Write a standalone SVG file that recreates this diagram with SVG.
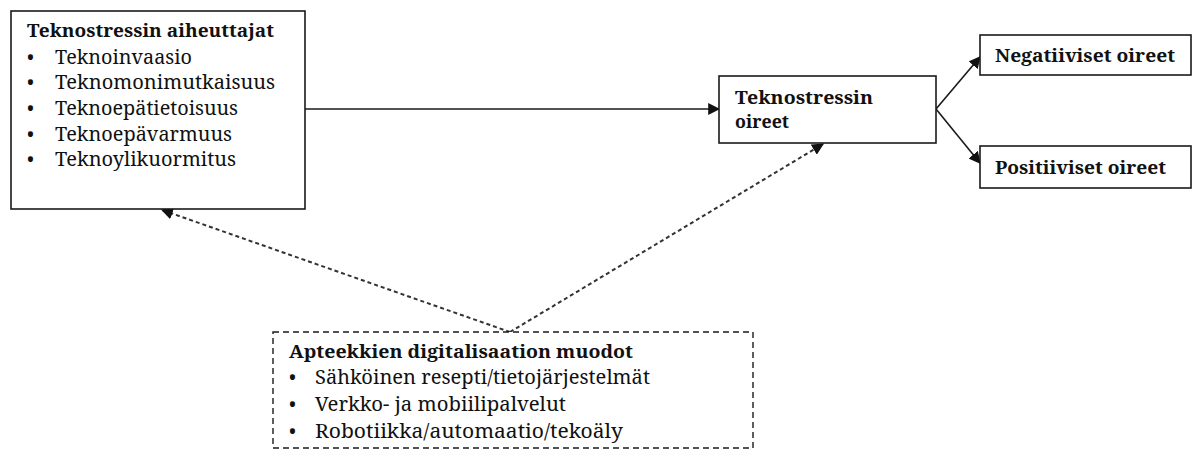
<svg xmlns="http://www.w3.org/2000/svg" width="1194" height="450" viewBox="0 0 1194 450">
<defs>
<style>
.box{fill:#fff;stroke:#1a1a1a;stroke-width:1.6}
.dbox{fill:#fff;stroke:#1a1a1a;stroke-width:1.4;stroke-dasharray:6 4}
.hd{font-family:"Noto Sans","Liberation Serif",serif;font-family:"Noto Serif","Liberation Serif",serif;font-weight:bold;font-size:18px;fill:#111}
.it{font-family:"Noto Serif","Liberation Serif",serif;font-weight:normal;font-size:19px;fill:#111}
.ln{stroke:#1a1a1a;stroke-width:1.6;fill:none}
.dl{stroke:#333;stroke-width:2;fill:none;stroke-dasharray:4 3}
</style>
<marker id="ah" viewBox="0 0 10 10" refX="9" refY="5" markerWidth="12" markerHeight="12" markerUnits="userSpaceOnUse" orient="auto">
<path d="M0,0 L10,5 L0,10 Z" fill="#111"/>
</marker>
</defs>
<rect width="1194" height="450" fill="#fff"/>
<g id="connectors">
<line class="ln" x1="305" y1="109" x2="719" y2="109" marker-end="url(#ah)"/>
<line class="ln" x1="936" y1="109" x2="980" y2="57" marker-end="url(#ah)"/>
<line class="ln" x1="936" y1="109" x2="980" y2="163" marker-end="url(#ah)"/>
<line class="dl" x1="510" y1="332" x2="162" y2="210" marker-end="url(#ah)"/>
<line class="dl" x1="510" y1="332" x2="823" y2="144" marker-end="url(#ah)"/>
</g>
<g id="causes">
<rect class="box" x="11" y="11" width="294" height="198"/>
<text class="hd" x="27" y="37" textLength="247" lengthAdjust="spacingAndGlyphs">Teknostressin aiheuttajat</text>
<g class="it">
<text x="27" y="64">•</text><text x="55" y="64" textLength="137" lengthAdjust="spacingAndGlyphs">Teknoinvaasio</text>
<text x="27" y="89">•</text><text x="55" y="89" textLength="220" lengthAdjust="spacingAndGlyphs">Teknomonimutkaisuus</text>
<text x="27" y="115">•</text><text x="55" y="115" textLength="183" lengthAdjust="spacingAndGlyphs">Teknoepätietoisuus</text>
<text x="27" y="141">•</text><text x="55" y="141" textLength="177" lengthAdjust="spacingAndGlyphs">Teknoepävarmuus</text>
<text x="27" y="166">•</text><text x="55" y="166" textLength="181" lengthAdjust="spacingAndGlyphs">Teknoylikuormitus</text>
</g>
</g>
<g id="symptoms">
<rect class="box" x="719" y="76" width="217" height="67"/>
<text class="hd" x="735" y="104" textLength="138" lengthAdjust="spacingAndGlyphs">Teknostressin</text>
<text class="hd" x="735" y="128" textLength="54" lengthAdjust="spacingAndGlyphs">oireet</text>
</g>
<g id="negative">
<rect class="box" x="980" y="35" width="211" height="40"/>
<text class="hd" x="995" y="62" textLength="180" lengthAdjust="spacingAndGlyphs">Negatiiviset oireet</text>
</g>
<g id="positive">
<rect class="box" x="980" y="146" width="211" height="42"/>
<text class="hd" x="995" y="174" textLength="171" lengthAdjust="spacingAndGlyphs">Positiiviset oireet</text>
</g>
<g id="digitalisation">
<rect class="dbox" x="273" y="332" width="480" height="116"/>
<text class="hd" x="289" y="358" textLength="344" lengthAdjust="spacingAndGlyphs">Apteekkien digitalisaation muodot</text>
<g class="it">
<text x="289" y="384">•</text><text x="315" y="384" textLength="335" lengthAdjust="spacingAndGlyphs">Sähköinen resepti/tietojärjestelmät</text>
<text x="289" y="411">•</text><text x="315" y="411" textLength="251" lengthAdjust="spacingAndGlyphs">Verkko- ja mobiilipalvelut</text>
<text x="289" y="438">•</text><text x="315" y="438" textLength="308" lengthAdjust="spacingAndGlyphs">Robotiikka/automaatio/tekoäly</text>
</g>
</g>
</svg>
